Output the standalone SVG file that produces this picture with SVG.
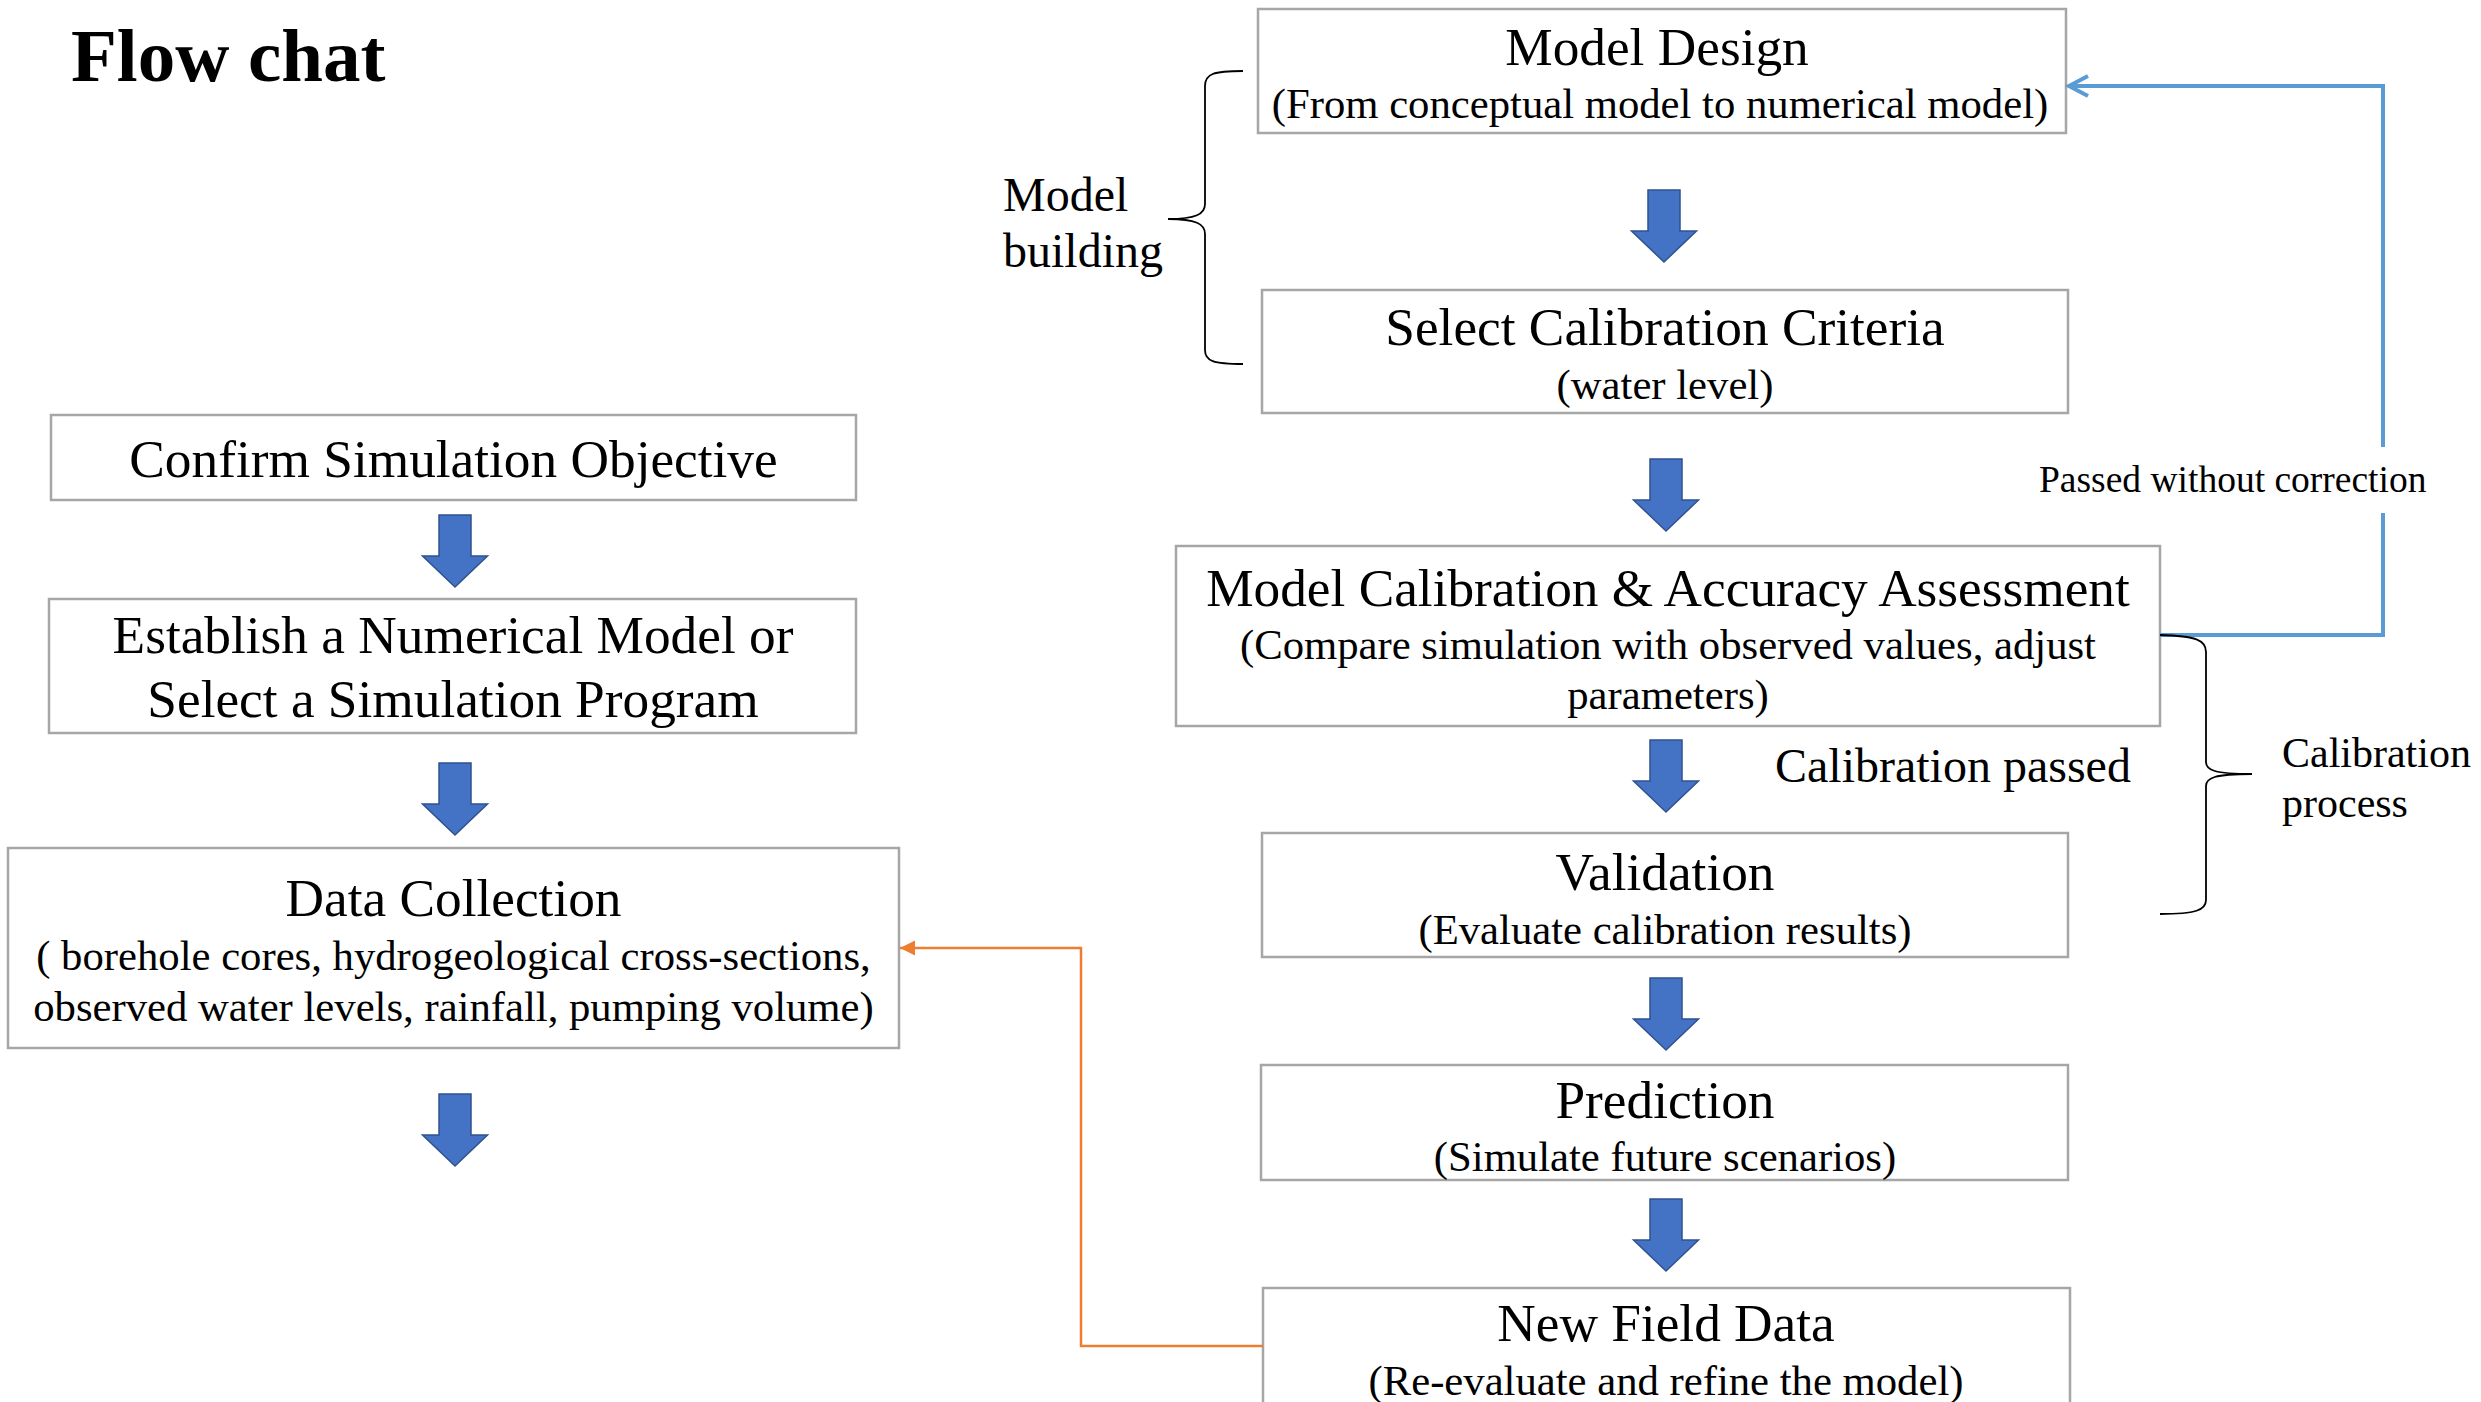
<svg xmlns="http://www.w3.org/2000/svg" xmlns:xlink="http://www.w3.org/1999/xlink" width="2481" height="1402" viewBox="0 0 2481 1402">
<style>
.box{fill:#fff;stroke:#a6a6a6;stroke-width:2.5}
.t{font-family:"Liberation Serif","Times New Roman",serif;fill:#000;text-anchor:middle}
.h{font-size:53.3px}
.s{font-size:42.7px}
.lbl{font-family:"Liberation Serif","Times New Roman",serif;fill:#000}
.arr{fill:#4472c4;stroke:#2f528f;stroke-width:1.5}
.brace{fill:none;stroke:#000;stroke-width:1.8}
</style>
<defs>
<path id="blk" class="arr" d="M-16,0 H16 V41 H32.5 L0,72 L-32.5,41 H-16 Z"/>
<marker id="orangeHead" markerWidth="16" markerHeight="16" refX="15" refY="7.5" orient="auto" markerUnits="userSpaceOnUse">
<path d="M0,0 L15,7.5 L0,15 Z" fill="#ed7d31"/>
</marker>
<marker id="blueHead" markerWidth="26" markerHeight="30" refX="21" refY="12" orient="auto" markerUnits="userSpaceOnUse">
<path d="M2,2 L21,12 L2,22" fill="none" stroke="#5b9bd5" stroke-width="4"/>
</marker>
</defs>
<rect width="2481" height="1402" fill="#fff"/>

<text x="71" y="81" font-family="Liberation Serif, Times New Roman, serif" font-weight="bold" font-size="75" fill="#000">Flow chat</text>

<g id="confirm">
<rect class="box" x="51" y="415" width="805" height="85"/>
<text class="t h" x="453.5" y="477">Confirm Simulation Objective</text>
</g>
<g id="establish">
<rect class="box" x="49" y="599" width="807" height="134"/>
<text class="t h" x="453" y="653">Establish a Numerical Model or</text>
<text class="t h" x="453" y="717">Select a Simulation Program</text>
</g>
<g id="datacollection">
<rect class="box" x="8" y="848" width="891" height="200"/>
<text class="t h" x="453.5" y="916">Data Collection</text>
<text class="t s" x="453.5" y="970">( borehole cores, hydrogeological cross-sections,</text>
<text class="t s" x="453.5" y="1021">observed water levels, rainfall, pumping volume)</text>
</g>

<g id="modeldesign">
<rect class="box" x="1258" y="9" width="808" height="124"/>
<text class="t h" x="1657" y="65">Model Design</text>
<text class="t s" x="1660" y="118">(From conceptual model to numerical model)</text>
</g>
<g id="selectcriteria">
<rect class="box" x="1262" y="290" width="806" height="123"/>
<text class="t h" x="1665" y="345">Select Calibration Criteria</text>
<text class="t s" x="1665" y="399">(water level)</text>
</g>
<g id="calibration">
<rect class="box" x="1176" y="546" width="984" height="180"/>
<text class="t h" x="1668" y="606">Model Calibration &amp; Accuracy Assessment</text>
<text class="t s" x="1668" y="659">(Compare simulation with observed values, adjust</text>
<text class="t s" x="1668" y="709">parameters)</text>
</g>
<g id="validation">
<rect class="box" x="1262" y="833" width="806" height="124"/>
<text class="t h" x="1665" y="890">Validation</text>
<text class="t s" x="1665" y="944">(Evaluate calibration results)</text>
</g>
<g id="prediction">
<rect class="box" x="1261" y="1065" width="807" height="115"/>
<text class="t h" x="1665" y="1118">Prediction</text>
<text class="t s" x="1665" y="1171">(Simulate future scenarios)</text>
</g>
<g id="newfielddata">
<rect class="box" x="1263" y="1288" width="807" height="130"/>
<text class="t h" x="1666" y="1341">New Field Data</text>
<text class="t s" x="1666" y="1395">(Re-evaluate and refine the model)</text>
</g>

<g id="connectors">
<use xlink:href="#blk" href="#blk" x="455" y="515"/>
<use xlink:href="#blk" href="#blk" x="455" y="763"/>
<use xlink:href="#blk" href="#blk" x="455" y="1094"/>
<use xlink:href="#blk" href="#blk" x="1664" y="190"/>
<use xlink:href="#blk" href="#blk" x="1666" y="459"/>
<use xlink:href="#blk" href="#blk" x="1666" y="740"/>
<use xlink:href="#blk" href="#blk" x="1666" y="978"/>
<use xlink:href="#blk" href="#blk" x="1666" y="1199"/>
<path d="M1263,1346 H1081 V948 H900" fill="none" stroke="#ed7d31" stroke-width="2.5" marker-end="url(#orangeHead)"/>
<path d="M2160,635 H2383 V513" fill="none" stroke="#5b9bd5" stroke-width="4"/>
<path d="M2383,447 V86 H2069" fill="none" stroke="#5b9bd5" stroke-width="4" marker-end="url(#blueHead)"/>
</g>

<g id="annotations">
<path class="brace" d="M1243,71 C1213,71 1205,74 1205,86 L1205,204 C1205,214 1196,219 1168,219 C1196,219 1205,224 1205,234 L1205,350 C1205,361 1213,364 1243,364"/>
<text class="lbl" x="1003" y="211" font-size="48">Model</text>
<text class="lbl" x="1003" y="267" font-size="48">building</text>
<path class="brace" d="M2160,635 C2196,636 2206,640 2206,652 L2206,762 C2206,770 2214,774 2252,774 C2214,774 2206,778 2206,786 L2206,900 C2206,910 2196,914 2160,914"/>
<text class="lbl" x="2282" y="767" font-size="42">Calibration</text>
<text class="lbl" x="2282" y="817" font-size="42">process</text>
<text class="lbl" x="2039" y="492" font-size="37.5">Passed without correction</text>
<text class="lbl" x="1775" y="782" font-size="48">Calibration passed</text>
</g>
</svg>
